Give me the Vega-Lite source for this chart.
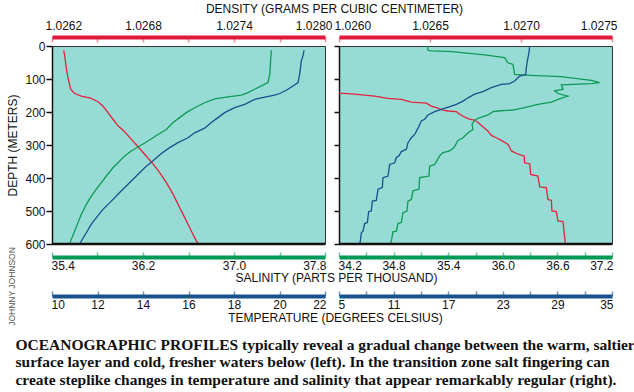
{
  "$schema": "https://vega.github.io/schema/vega-lite/v6.json",
  "background": "white",
  "padding": {"left": 6, "top": 2, "right": 5, "bottom": 5},
  "bounds": "flush",
  "spacing": 14,
  "config": {
    "font": "Liberation Sans",
    "view": {"fill": "#97dbd5", "stroke": "#333", "strokeWidth": 1},
    "axis": {"labelFont": "Liberation Sans", "titleFont": "Liberation Sans", "labelFontSize": 12, "titleFontSize": 12, "titleFontWeight": "normal", "labelColor": "#111", "titleColor": "#111", "grid": false, "labelOverlap": false},
    "title": {"font": "Liberation Serif"}
  },
  "title": {
    "text": ["OCEANOGRAPHIC PROFILES typically reveal a gradual change between the warm, saltier", "surface layer and cold, fresher waters below (left). In the transition zone salt fingering can", "create steplike changes in temperature and salinity that appear remarkably regular (right)."],
    "orient": "bottom", "anchor": "start", "frame": "bounds", "dx": 9, "offset": 12,
    "font": "Liberation Serif", "fontSize": 15.5, "fontWeight": "bold", "lineHeight": 17.5, "color": "#111"
  },
  "datasets": {
    "leftDensity": [
      {"depth": 13, "density": 1.026277}, {"depth": 30, "density": 1.026284}, {"depth": 66, "density": 1.026294}, {"depth": 96, "density": 1.026305}, {"depth": 131, "density": 1.026323}, {"depth": 144, "density": 1.026349}, {"depth": 152, "density": 1.026393}, {"depth": 159, "density": 1.026459}, {"depth": 169, "density": 1.026503}, {"depth": 182, "density": 1.026536}, {"depth": 202, "density": 1.026569}, {"depth": 222, "density": 1.026602}, {"depth": 242, "density": 1.026635}, {"depth": 260, "density": 1.026679}, {"depth": 283, "density": 1.026723}, {"depth": 303, "density": 1.026763}, {"depth": 328, "density": 1.026811}, {"depth": 357, "density": 1.026866}, {"depth": 384, "density": 1.02691}, {"depth": 414, "density": 1.026954}, {"depth": 449, "density": 1.026998}, {"depth": 490, "density": 1.027042}, {"depth": 520, "density": 1.027075}, {"depth": 551, "density": 1.027108}, {"depth": 571, "density": 1.02713}, {"depth": 591, "density": 1.027152}, {"depth": 600, "density": 1.027167}
    ],
    "leftSalinity": [
      {"depth": 13, "salinity": 37.328}, {"depth": 45, "salinity": 37.322}, {"depth": 86, "salinity": 37.314}, {"depth": 111, "salinity": 37.299}, {"depth": 121, "salinity": 37.24}, {"depth": 131, "salinity": 37.182}, {"depth": 141, "salinity": 37.123}, {"depth": 149, "salinity": 37.064}, {"depth": 154, "salinity": 36.947}, {"depth": 160, "salinity": 36.83}, {"depth": 172, "salinity": 36.742}, {"depth": 187, "salinity": 36.654}, {"depth": 202, "salinity": 36.581}, {"depth": 217, "salinity": 36.522}, {"depth": 232, "salinity": 36.464}, {"depth": 253, "salinity": 36.405}, {"depth": 268, "salinity": 36.332}, {"depth": 288, "salinity": 36.244}, {"depth": 303, "salinity": 36.171}, {"depth": 318, "salinity": 36.097}, {"depth": 333, "salinity": 36.039}, {"depth": 354, "salinity": 35.98}, {"depth": 369, "salinity": 35.936}, {"depth": 394, "salinity": 35.878}, {"depth": 414, "salinity": 35.834}, {"depth": 434, "salinity": 35.79}, {"depth": 455, "salinity": 35.746}, {"depth": 480, "salinity": 35.702}, {"depth": 510, "salinity": 35.658}, {"depth": 535, "salinity": 35.629}, {"depth": 561, "salinity": 35.599}, {"depth": 586, "salinity": 35.57}, {"depth": 600, "salinity": 35.555}
    ],
    "leftTemperature": [
      {"depth": 13, "temperature": 21.077}, {"depth": 30, "temperature": 21.033}, {"depth": 45, "temperature": 20.96}, {"depth": 86, "temperature": 20.886}, {"depth": 111, "temperature": 20.813}, {"depth": 121, "temperature": 20.593}, {"depth": 134, "temperature": 20.3}, {"depth": 144, "temperature": 20.007}, {"depth": 149, "temperature": 19.788}, {"depth": 155, "temperature": 19.348}, {"depth": 162, "temperature": 18.908}, {"depth": 177, "temperature": 18.469}, {"depth": 187, "temperature": 18.029}, {"depth": 202, "temperature": 17.59}, {"depth": 217, "temperature": 17.297}, {"depth": 232, "temperature": 17.004}, {"depth": 249, "temperature": 16.711}, {"depth": 263, "temperature": 16.271}, {"depth": 278, "temperature": 15.978}, {"depth": 293, "temperature": 15.538}, {"depth": 308, "temperature": 15.172}, {"depth": 326, "temperature": 14.806}, {"depth": 348, "temperature": 14.44}, {"depth": 369, "temperature": 14.073}, {"depth": 394, "temperature": 13.707}, {"depth": 419, "temperature": 13.341}, {"depth": 444, "temperature": 12.974}, {"depth": 470, "temperature": 12.608}, {"depth": 495, "temperature": 12.242}, {"depth": 520, "temperature": 11.949}, {"depth": 540, "temperature": 11.729}, {"depth": 566, "temperature": 11.509}, {"depth": 591, "temperature": 11.289}, {"depth": 600, "temperature": 11.216}
    ],
    "rightDensity": [
      {"depth": 143, "density": 1.026}, {"depth": 146, "density": 1.026086}, {"depth": 152, "density": 1.026196}, {"depth": 159, "density": 1.026269}, {"depth": 162, "density": 1.026342}, {"depth": 170, "density": 1.026397}, {"depth": 173, "density": 1.02648}, {"depth": 182, "density": 1.026507}, {"depth": 187, "density": 1.026535}, {"depth": 194, "density": 1.026571}, {"depth": 197, "density": 1.026599}, {"depth": 199, "density": 1.026645}, {"depth": 207, "density": 1.026663}, {"depth": 215, "density": 1.02669}, {"depth": 220, "density": 1.026709}, {"depth": 225, "density": 1.026745}, {"depth": 232, "density": 1.026764}, {"depth": 245, "density": 1.026791}, {"depth": 258, "density": 1.026819}, {"depth": 271, "density": 1.026837}, {"depth": 278, "density": 1.026864}, {"depth": 286, "density": 1.026892}, {"depth": 298, "density": 1.026929}, {"depth": 318, "density": 1.026947}, {"depth": 328, "density": 1.026984}, {"depth": 333, "density": 1.027017}, {"depth": 354, "density": 1.02702}, {"depth": 357, "density": 1.027048}, {"depth": 389, "density": 1.027053}, {"depth": 394, "density": 1.027093}, {"depth": 427, "density": 1.027103}, {"depth": 429, "density": 1.027139}, {"depth": 465, "density": 1.027148}, {"depth": 468, "density": 1.027167}, {"depth": 500, "density": 1.02717}, {"depth": 502, "density": 1.027194}, {"depth": 530, "density": 1.027203}, {"depth": 532, "density": 1.027231}, {"depth": 561, "density": 1.027236}, {"depth": 600, "density": 1.027244}
    ],
    "rightSalinity": [
      {"depth": 0, "salinity": 35.171}, {"depth": 13, "salinity": 35.178}, {"depth": 15, "salinity": 35.215}, {"depth": 17, "salinity": 35.453}, {"depth": 20, "salinity": 35.544}, {"depth": 27, "salinity": 35.801}, {"depth": 35, "salinity": 36.02}, {"depth": 51, "salinity": 36.057}, {"depth": 56, "salinity": 36.112}, {"depth": 86, "salinity": 36.13}, {"depth": 88, "salinity": 36.24}, {"depth": 93, "salinity": 36.643}, {"depth": 104, "salinity": 36.973}, {"depth": 111, "salinity": 37.064}, {"depth": 114, "salinity": 36.973}, {"depth": 118, "salinity": 36.643}, {"depth": 131, "salinity": 36.662}, {"depth": 136, "salinity": 36.57}, {"depth": 144, "salinity": 36.607}, {"depth": 152, "salinity": 36.716}, {"depth": 162, "salinity": 36.607}, {"depth": 170, "salinity": 36.533}, {"depth": 177, "salinity": 36.387}, {"depth": 187, "salinity": 36.24}, {"depth": 194, "salinity": 36.112}, {"depth": 197, "salinity": 35.947}, {"depth": 199, "salinity": 35.892}, {"depth": 209, "salinity": 35.837}, {"depth": 219, "salinity": 35.727}, {"depth": 225, "salinity": 35.691}, {"depth": 237, "salinity": 35.662}, {"depth": 253, "salinity": 35.672}, {"depth": 263, "salinity": 35.618}, {"depth": 278, "salinity": 35.563}, {"depth": 286, "salinity": 35.508}, {"depth": 308, "salinity": 35.464}, {"depth": 318, "salinity": 35.416}, {"depth": 323, "salinity": 35.343}, {"depth": 333, "salinity": 35.306}, {"depth": 359, "salinity": 35.251}, {"depth": 364, "salinity": 35.196}, {"depth": 394, "salinity": 35.189}, {"depth": 399, "salinity": 35.086}, {"depth": 434, "salinity": 35.079}, {"depth": 439, "salinity": 35.013}, {"depth": 465, "salinity": 34.995}, {"depth": 470, "salinity": 34.958}, {"depth": 500, "salinity": 34.947}, {"depth": 505, "salinity": 34.903}, {"depth": 535, "salinity": 34.885}, {"depth": 538, "salinity": 34.848}, {"depth": 561, "salinity": 34.83}, {"depth": 563, "salinity": 34.793}, {"depth": 591, "salinity": 34.775}, {"depth": 600, "salinity": 34.764}
    ],
    "rightTemperature": [
      {"depth": 0, "temperature": 25.952}, {"depth": 20, "temperature": 25.879}, {"depth": 45, "temperature": 25.696}, {"depth": 66, "temperature": 25.586}, {"depth": 86, "temperature": 25.513}, {"depth": 91, "temperature": 24.853}, {"depth": 106, "temperature": 24.304}, {"depth": 114, "temperature": 23.755}, {"depth": 116, "temperature": 22.839}, {"depth": 126, "temperature": 21.74}, {"depth": 138, "temperature": 20.824}, {"depth": 146, "temperature": 19.908}, {"depth": 157, "temperature": 19.176}, {"depth": 167, "temperature": 18.626}, {"depth": 177, "temperature": 17.894}, {"depth": 182, "temperature": 17.344}, {"depth": 192, "temperature": 16.245}, {"depth": 199, "temperature": 15.513}, {"depth": 209, "temperature": 14.78}, {"depth": 222, "temperature": 14.414}, {"depth": 227, "temperature": 14.048}, {"depth": 249, "temperature": 13.681}, {"depth": 268, "temperature": 13.315}, {"depth": 278, "temperature": 12.949}, {"depth": 293, "temperature": 12.582}, {"depth": 313, "temperature": 12.399}, {"depth": 320, "temperature": 11.85}, {"depth": 333, "temperature": 11.593}, {"depth": 338, "temperature": 11.3}, {"depth": 354, "temperature": 11.117}, {"depth": 359, "temperature": 10.568}, {"depth": 394, "temperature": 10.385}, {"depth": 399, "temperature": 9.835}, {"depth": 429, "temperature": 9.762}, {"depth": 434, "temperature": 9.286}, {"depth": 468, "temperature": 9.103}, {"depth": 470, "temperature": 8.663}, {"depth": 500, "temperature": 8.553}, {"depth": 502, "temperature": 8.26}, {"depth": 535, "temperature": 8.114}, {"depth": 538, "temperature": 7.821}, {"depth": 561, "temperature": 7.637}, {"depth": 566, "temperature": 7.454}, {"depth": 591, "temperature": 7.344}, {"depth": 600, "temperature": 7.271}
    ],
    "bottomLine": [{"depth": 600}]
  },
  "hconcat": [
    {
      "width": 273,
      "height": 198,
      "layer": [
        {
          "data": {"name": "leftDensity"},
          "mark": {"type": "line", "color": "#e2243e", "strokeWidth": 1.3},
          "encoding": {
            "x": {"field": "density", "type": "quantitative", "scale": {"domain": [1.0262, 1.028], "nice": false, "zero": false},
              "axis": {"orient": "top", "offset": 9, "values": [1.0262, 1.0265, 1.0268, 1.0271, 1.0274, 1.0277, 1.028], "format": ".4f",
                "labelExpr": "indexof(['1.0262','1.0268','1.0274','1.0280'], datum.label) >= 0 ? datum.label : ''",
                "domainColor": "#e0193a", "domainWidth": 4, "tickColor": "#f08a9a", "tickWidth": 1.5, "tickSize": -5, "labelPadding": 9.5,
                "labelFlush": true, "labelFlushOffset": 7,
                "title": "DENSITY (GRAMS PER CUBIC CENTIMETER)", "titleX": 282, "titlePadding": 4}},
            "y": {"field": "depth", "type": "quantitative", "scale": {"domain": [0, 600], "reverse": true, "nice": false},
              "axis": {"orient": "left", "values": [0, 100, 200, 300, 400, 500, 600], "tickSize": 6, "tickWidth": 1.5, "tickColor": "#111", "domainColor": "#111", "domainWidth": 1.5, "labelPadding": 1, "title": "DEPTH (METERS)", "titlePadding": 5}},
            "order": {"value": null}
          }
        },
        {
          "data": {"name": "leftSalinity"},
          "mark": {"type": "line", "color": "#0f9a55", "strokeWidth": 1.3},
          "encoding": {
            "x": {"field": "salinity", "type": "quantitative", "scale": {"domain": [35.4, 37.8], "nice": false, "zero": false},
              "axis": {"orient": "bottom", "offset": 13, "values": [35.4, 35.8, 36.2, 36.6, 37.0, 37.4, 37.8], "format": ".1f",
                "labelExpr": "indexof(['35.4','36.2','37.0','37.8'], datum.label) >= 0 ? datum.label : ''",
                "domainColor": "#009a57", "domainWidth": 4, "tickColor": "#6cc59a", "tickWidth": 1.5, "tickSize": -5, "labelPadding": 8,
                "labelFlush": true, "labelFlushOffset": 1,
                "title": "SALINITY (PARTS PER THOUSAND)", "titleX": 284, "titlePadding": 1.5}},
            "y": {"field": "depth", "type": "quantitative", "scale": {"domain": [0, 600], "reverse": true, "nice": false},
              "axis": {"orient": "left", "domain": false, "ticks": false, "labels": false, "title": "JOHNNY JOHNSON", "titleFontSize": 8.5, "titleColor": "#555", "titleX": -41, "titleY": 240, "titleAngle": 270, "titleAlign": "center", "titleBaseline": "middle"}},
            "order": {"value": null}
          }
        },
        {
          "data": {"name": "leftTemperature"},
          "mark": {"type": "line", "color": "#1c4f8c", "strokeWidth": 1.3},
          "encoding": {
            "x": {"field": "temperature", "type": "quantitative", "scale": {"domain": [10, 22], "nice": false, "zero": false},
              "axis": {"orient": "bottom", "offset": 52, "values": [10, 12, 14, 16, 18, 20, 22], "format": "d",
                "domainColor": "#185390", "domainWidth": 4, "tickColor": "#6d92bd", "tickWidth": 1.5, "tickSize": -5, "labelPadding": 8.5,
                "labelFlush": true, "labelFlushOffset": 1,
                "title": "TEMPERATURE (DEGREES CELSIUS)", "titleX": 283, "titlePadding": 1.5}},
            "y": {"field": "depth", "type": "quantitative", "scale": {"domain": [0, 600], "reverse": true, "nice": false}, "axis": null},
            "order": {"value": null}
          }
        },
        {
          "data": {"name": "bottomLine"},
          "mark": {"type": "rule", "color": "#111", "strokeWidth": 2.5},
          "encoding": {
            "y": {"field": "depth", "type": "quantitative", "scale": {"domain": [0, 600], "reverse": true, "nice": false}, "axis": null}
          }
        }
      ],
      "resolve": {"scale": {"x": "independent", "y": "independent"}, "axis": {"x": "independent", "y": "independent"}}
    },
    {
      "width": 273,
      "height": 198,
      "layer": [
        {
          "data": {"name": "rightDensity"},
          "mark": {"type": "line", "color": "#e2243e", "strokeWidth": 1.3},
          "encoding": {
            "x": {"field": "density", "type": "quantitative", "scale": {"domain": [1.026, 1.0275], "nice": false, "zero": false},
              "axis": {"orient": "top", "offset": 9, "values": [1.026, 1.0265, 1.027, 1.0275], "format": ".4f",
                "domainColor": "#e0193a", "domainWidth": 4, "tickColor": "#f08a9a", "tickWidth": 1.5, "tickSize": -5, "labelPadding": 9.5,
                "labelFlush": true, "labelFlushOffset": 5, "title": null}},
            "y": {"field": "depth", "type": "quantitative", "scale": {"domain": [0, 600], "reverse": true, "nice": false},
              "axis": {"orient": "left", "values": [0, 100, 200, 300, 400, 500, 600], "labels": false, "tickSize": 5, "tickWidth": 1.5, "tickColor": "#111", "domainColor": "#111", "domainWidth": 1.5, "title": null}},
            "order": {"value": null}
          }
        },
        {
          "data": {"name": "rightSalinity"},
          "mark": {"type": "line", "color": "#0f9a55", "strokeWidth": 1.3},
          "encoding": {
            "x": {"field": "salinity", "type": "quantitative", "scale": {"domain": [34.2, 37.2], "nice": false, "zero": false},
              "axis": {"orient": "bottom", "offset": 13, "values": [34.2, 34.5, 34.8, 35.1, 35.4, 35.7, 36.0, 36.3, 36.6, 36.9, 37.2], "format": ".1f",
                "labelExpr": "indexof(['34.2','34.8','35.4','36.0','36.6','37.2'], datum.label) >= 0 ? datum.label : ''",
                "domainColor": "#009a57", "domainWidth": 4, "tickColor": "#6cc59a", "tickWidth": 1.5, "tickSize": -5, "labelPadding": 8,
                "labelFlush": true, "labelFlushOffset": 1, "title": null}},
            "y": {"field": "depth", "type": "quantitative", "scale": {"domain": [0, 600], "reverse": true, "nice": false}, "axis": null},
            "order": {"value": null}
          }
        },
        {
          "data": {"name": "rightTemperature"},
          "mark": {"type": "line", "color": "#1c4f8c", "strokeWidth": 1.3},
          "encoding": {
            "x": {"field": "temperature", "type": "quantitative", "scale": {"domain": [5, 35], "nice": false, "zero": false},
              "axis": {"orient": "bottom", "offset": 52, "values": [5, 8, 11, 14, 17, 20, 23, 26, 29, 32, 35], "format": "d",
                "labelExpr": "indexof(['5','11','17','23','29','35'], datum.label) >= 0 ? datum.label : ''",
                "domainColor": "#185390", "domainWidth": 4, "tickColor": "#6d92bd", "tickWidth": 1.5, "tickSize": -5, "labelPadding": 8.5,
                "labelFlush": true, "labelFlushOffset": 1, "title": null}},
            "y": {"field": "depth", "type": "quantitative", "scale": {"domain": [0, 600], "reverse": true, "nice": false}, "axis": null},
            "order": {"value": null}
          }
        },
        {
          "data": {"name": "bottomLine"},
          "mark": {"type": "rule", "color": "#111", "strokeWidth": 2.5},
          "encoding": {
            "y": {"field": "depth", "type": "quantitative", "scale": {"domain": [0, 600], "reverse": true, "nice": false}, "axis": null}
          }
        }
      ],
      "resolve": {"scale": {"x": "independent", "y": "independent"}, "axis": {"x": "independent", "y": "independent"}}
    }
  ]
}
